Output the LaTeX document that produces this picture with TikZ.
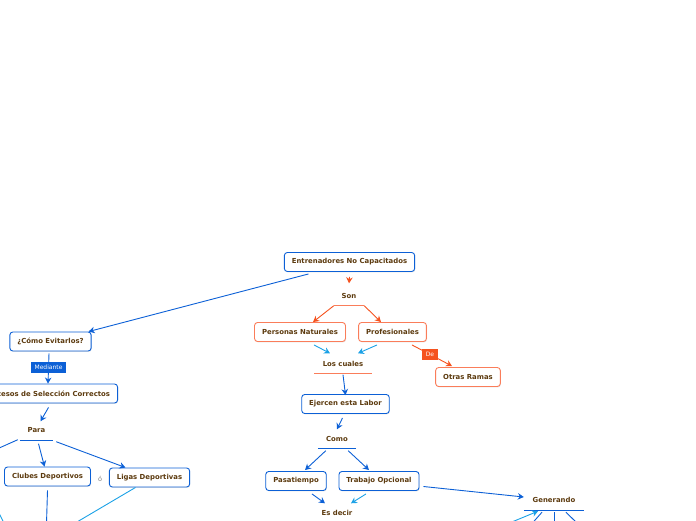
\documentclass[tikz,border=0pt]{standalone}
\usepackage{fontspec}
\setmainfont{DejaVu Sans}
\usetikzlibrary{arrows.meta,shadows}
\definecolor{cmblue}{RGB}{12,96,214}
\definecolor{cmlight}{RGB}{27,161,230}
\definecolor{cmorange}{RGB}{245,82,30}
\definecolor{cmsalmon}{RGB}{250,125,90}
\definecolor{cmtext}{RGB}{92,58,14}
\tikzstyle{concept}=[rectangle,rounded corners=3pt,draw=cmblue,line width=0.9pt,fill=white,minimum height=19pt,inner xsep=7.5pt,inner ysep=0pt,font=\fontsize{6.9}{8}\selectfont\bfseries,text=cmtext,drop shadow={opacity=0.2,shadow xshift=0.6pt,shadow yshift=-0.9pt}]
\tikzstyle{orangeconcept}=[concept,draw=cmsalmon]
\tikzstyle{linker}=[minimum height=20pt,inner sep=0pt,font=\fontsize{6.9}{8}\selectfont\bfseries,text=cmtext]
\tikzstyle{edge}=[draw,line width=0.9pt,-{Stealth[length=6pt,width=6.5pt]}]
\tikzstyle{line}=[draw,line width=0.9pt]
\tikzstyle{tag}=[rectangle,text=white,font=\fontsize{6}{7}\selectfont,inner xsep=4pt,inner ysep=0pt,minimum height=11pt]

\begin{document}
\begin{tikzpicture}[x=1pt,y=-1pt]

    \useasboundingbox (0,0) rectangle (696,520);
    \clip (0,0) rectangle (696,520);

    % concepts
    \foreach \x/\y/\name/\txt in {349.5/262/ent/{Entrenadores No Capacitados}, 50.5/341.5/ev/{¿Cómo Evitarlos?}, 345.5/404/ejer/{Ejercen esta Labor}, 296/481/pasa/{Pasatiempo}, 379/481/trab/{Trabajo Opcional}, 47.5/476.5/clubes/{Clubes Deportivos}, 149.5/477.5/ligas/{Ligas Deportivas}}
        \node[concept] (\name) at (\x,\y) {\txt};

    \foreach \x/\y/\name/\txt in {300/332/pn/{Personas Naturales}, 392.5/332/prof/{Profesionales}, 468/377/otras/{Otras Ramas}}
        \node[orangeconcept] (\name) at (\x,\y) {\txt};

    \node[concept, anchor=east] (proc) at (118,393.5) {Procesos de Selección Correctos};

    % linking words
    \foreach \x/\y/\name/\w/\txt in {349/295.5/son/30/Son, 343/363.5/cuales/57/{Los cuales}, 337/438.5/como/38/Como, 337/512.5/esdecir/40/{Es decir}, 36.5/430.5/para/33/Para, 554/500/gen/60/Generando}
        \node[linker, minimum width=\w pt] (\name) at (\x,\y) {\txt};

    \foreach \name/\col in {son/cmsalmon, cuales/cmsalmon, como/cmblue, para/cmblue, gen/cmblue, esdecir/cmblue}
        \draw[\col, line width=0.8pt] (\name.south west) -- (\name.south east);

    \node[font=\fontsize{6.5}{7}\selectfont, text=gray] (o) at (100,478.5) {ó};

    % loose ends
    \coordinate (paraout) at (-30,461);
    \coordinate (clubesout) at (46,540);
    \coordinate (ligasout) at (60,532);
    \coordinate (leftin) at (-5,505);
    \coordinate (leftout) at (6,527);
    \coordinate (genin) at (490,531);
    \foreach \name/\x in {gout1/528, gout2/554, gout3/582}
        \coordinate (\name) at (\x,528);

    % right branch
    \path[edge, cmorange] ([yshift=-5pt]ent.south) -- ([yshift=2pt]son.north);
    \path[edge, cmorange] (son.south west) -- ([xshift=13pt]pn.north);
    \path[edge, cmorange] (son.south east) -- ([xshift=-11.5pt]prof.north);
    \path[edge, cmlight] ([xshift=14pt,yshift=-3pt]pn.south) -- ([xshift=-13pt]cuales.north);
    \path[edge, cmlight] ([xshift=-15.5pt,yshift=-3pt]prof.south) -- ([xshift=15pt]cuales.north);
    \path[edge, cmorange] ([xshift=19.5pt,yshift=-3pt]prof.south) -- node[tag, fill=cmorange, pos=0.45] {De} ([xshift=-16pt,yshift=1pt]otras.north);
    \path[edge, cmblue] ([yshift=-1pt]cuales.south) -- ([yshift=-1pt]ejer.north);
    \path[edge, cmblue] ([xshift=-3pt,yshift=-4pt]ejer.south) -- ([yshift=-1pt]como.north);
    \path[edge, cmblue] ([xshift=8pt,yshift=-2pt]como.south west) -- ([xshift=9pt,yshift=1pt]pasa.north);
    \path[edge, cmblue] ([xshift=-8pt,yshift=-2pt]como.south east) -- ([xshift=-10pt,yshift=1pt]trab.north);
    \path[edge, cmblue] ([xshift=16pt,yshift=-3pt]pasa.south) -- ([xshift=-12pt,yshift=-1pt]esdecir.north);
    \path[edge, cmlight] ([xshift=-13pt,yshift=-3pt]trab.south) -- ([xshift=14pt,yshift=-1pt]esdecir.north);
    \path[edge, cmblue] ([xshift=4pt,yshift=-5.5pt]trab.east) -- ([yshift=3pt]gen.west);
    \path[edge, cmlight] (genin) -- ([xshift=-16pt,yshift=-1pt]gen.south);
    \foreach \dx/\dest in {-12/gout1, 0/gout2, 12/gout3}
        \path[line, cmblue] ([xshift=\dx pt,yshift=-2pt]gen.south) -- (\dest);

    % left branch
    \path[edge, cmblue] ([xshift=-41pt,yshift=-2pt]ent.south) -- ([xshift=-3pt]ev.north east);
    \path[edge, cmblue] ([xshift=-1.5pt,yshift=-2pt]ev.south) -- node[tag, fill=cmblue, pos=0.45] {Mediante} (proc.north -| {(48,0)});
    \path[edge, cmblue] ([xshift=-2pt,yshift=-4pt]proc.south -| ev.south) -- ([xshift=4pt,yshift=-1pt]para.north);
    \path[line, cmblue] ([xshift=-2pt,yshift=1pt]para.south west) -- (paraout);
    \path[edge, cmblue] ([xshift=2pt,yshift=-3pt]para.south) -- ([xshift=-3pt]clubes.north);
    \path[edge, cmblue] ([xshift=3pt,yshift=-1pt]para.south east) -- ([xshift=-24pt]ligas.north);
    \path[line, cmblue] ([yshift=-4pt]clubes.south) -- (clubesout);
    \path[line, cmlight] ([xshift=-14pt]ligas.south) -- (ligasout);
    \path[line, cmlight] (leftin) -- (leftout);

\end{tikzpicture}
\end{document}
